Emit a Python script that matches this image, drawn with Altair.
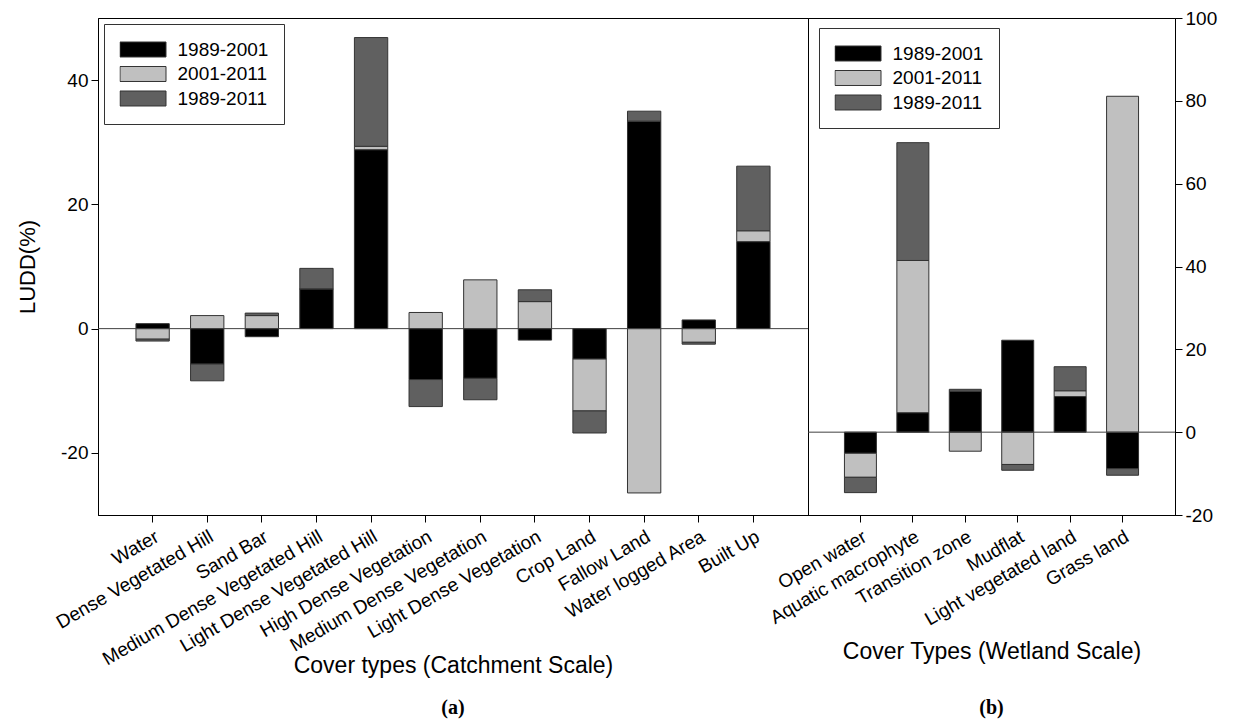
import altair as alt
import pandas as pd

periods = ["1989-2001", "2001-2011", "1989-2011"]
colors = ["#000000", "#c0c0c0", "#606060"]

cats_a = ["Water", "Dense Vegetated Hill", "Sand Bar", "Medium Dense Vegetated Hill",
          "Light Dense Vegetated Hill", "High Dense Vegetation", "Medium Dense Vegetation",
          "Light Dense Vegetation", "Crop Land", "Fallow Land", "Water logged Area", "Built Up"]
a_1989_2001 = [0.8, -5.7, -1.3, 6.4, 28.8, -8.2, -8.0, -1.85, -4.9, 33.4, 1.4, 14.0]
a_2001_2011 = [-1.7, 2.1, 2.1, 0.0, 0.55, 2.6, 7.85, 4.35, -8.35, -26.45, -2.2, 1.75]
a_1989_2011 = [-0.3, -2.7, 0.4, 3.3, 17.5, -4.35, -3.45, 1.9, -3.55, 1.6, -0.3, 10.4]

cats_b = ["Open water", "Aquatic macrophyte", "Transition zone", "Mudflat",
          "Light vegetated land", "Grass land"]
b_1989_2001 = [-5.1, 4.7, 9.9, 22.2, 8.6, -8.8]
b_2001_2011 = [-5.8, 36.75, -4.6, -7.8, 1.4, 81.1]
b_1989_2011 = [-3.7, 28.45, 0.45, -1.4, 5.8, -1.6]

ticks_a = [-20, 0, 20, 40]
ticks_b = [-20, 0, 20, 40, 60, 80, 100]


def to_long(cats, series):
    rows = []
    for k, (p, vals) in enumerate(zip(periods, series)):
        for c, v in zip(cats, vals):
            rows.append({"cat": c, "period": p, "order": k, "value": v})
    return pd.DataFrame(rows)


df_a = to_long(cats_a, [a_1989_2001, a_2001_2011, a_1989_2011])
df_b = to_long(cats_b, [b_1989_2001, b_2001_2011, b_1989_2011])

SYM = "M-1,-0.326H1V0.326H-1Z"
FONT = "Liberation Sans"


def panel(df, cats, domain, ticks, w, yorient, ytitle, xtitle, title_y, lx, ly, tag, tag_offset):
    color = alt.Color(
        "period:N",
        scale=alt.Scale(domain=periods, range=colors),
        legend=alt.Legend(
            title=None, orient="none", legendX=lx, legendY=ly,
            symbolType=SYM, symbolSize=2116, clipHeight=20, rowPadding=4.5,
            padding=15.5, labelFontSize=19, labelFont=FONT, labelOffset=11,
            strokeColor="#333333", fillColor="white",
            symbolStrokeColor="#333333", symbolStrokeWidth=1, labelColor="black",
        ),
    )
    x = alt.X(
        "cat:N", sort=cats,
        scale=alt.Scale(paddingInner=0.39, paddingOuter=0.695),
        axis=alt.Axis(
            title=xtitle, labelAngle=330, labelAlign="right", labelBaseline="top",
            labelPadding=5, tickSize=7, labelFontSize=19, labelLimit=400,
            titleY=title_y, titleBaseline="middle", titleFontSize=23,
            titleFontWeight="normal",
        ),
    )
    y = alt.Y(
        "value:Q", stack="zero",
        scale=alt.Scale(domain=domain, nice=False, zero=False),
        axis=alt.Axis(
            orient=yorient, values=ticks, title=ytitle, grid=False, tickSize=7,
            labelExpr="'' + datum.value",
            labelFontSize=19, labelPadding=3, titleFontSize=22, titleFontWeight="normal",
            titlePadding=21,
        ),
    )
    bars = alt.Chart(df).mark_bar(stroke="#333333", strokeWidth=1).encode(
        x=x, y=y, color=color, order=alt.Order("order:Q")
    )
    zero = alt.Chart(pd.DataFrame({"z": [0]})).mark_rule(
        color="#404040", strokeWidth=1
    ).encode(y=alt.datum(0))
    return alt.layer(bars, zero).properties(
        width=w, height=497,
        title=alt.TitleParams(
            tag, orient="bottom", anchor="middle", font="Liberation Serif",
            fontWeight="bold", fontSize=20, offset=tag_offset, color="black",
        ),
    )


left = panel(df_a, cats_a, [-30, 50], ticks_a, 710, "left", "LUDD(%)",
             "Cover types (Catchment Scale)", 150, 6, 6, "(a)", 21)
right = panel(df_b, cats_b, [-20, 100], ticks_b, 367, "right", None,
              "Cover Types (Wetland Scale)", 136, 11, 10, "(b)", 35)

chart = (
    alt.hconcat(left, right, spacing=0, bounds="flush")
    .resolve_scale(color="independent", x="independent", y="independent")
    .resolve_legend(color="independent")
    .configure_view(stroke="black", strokeWidth=1)
    .configure_axis(
        labelFont=FONT, titleFont=FONT, labelColor="black", titleColor="black",
        domainColor="black", tickColor="black", domainWidth=1, tickWidth=1,
    )
    .properties(padding={"left": 8, "top": 0, "right": 5, "bottom": 0}, background="white")
)

chart.save("out.html", embed_options={"renderer": "svg", "actions": False})
